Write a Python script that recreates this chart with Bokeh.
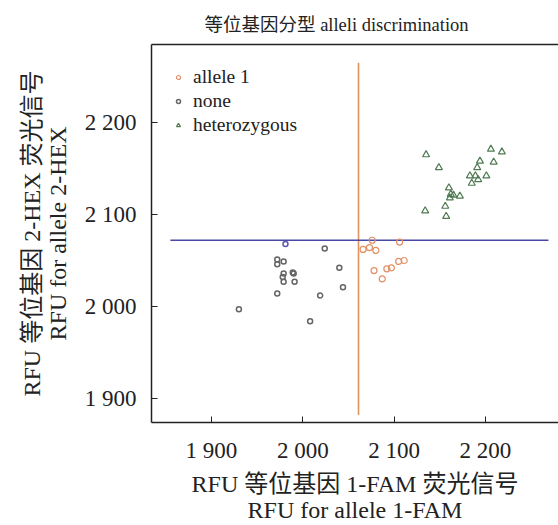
from bokeh.plotting import figure
from bokeh.models import FixedTicker, LinearAxis, Range1d, ColumnDataSource, Legend, LegendItem
from bokeh.embed import file_html
from bokeh.resources import INLINE

# ---- data ----
allele1_x = [2076, 2106, 2066, 2073, 2080, 2078, 2092, 2097, 2087, 2105, 2111]
allele1_y = [2072, 2070, 2062, 2064, 2061, 2039, 2041, 2042, 2030, 2049, 2050]

none_x = [2024, 1972, 1979, 1972, 1979, 1989, 1990, 1978, 1979, 1991, 1972, 2019, 1930, 2008, 2040, 2044, 1981]
none_y = [2063, 2051, 2049, 2046, 2036, 2037, 2036, 2032, 2027, 2027, 2014, 2012, 1997, 1984, 2042, 2021, 2068]
none_colors = ["#656565"] * 16 + ["#5a5ab0"]

het_x = [2135, 2149, 2206, 2218, 2194, 2209, 2191, 2183, 2189, 2192, 2201, 2185, 2160, 2162, 2165, 2172, 2161, 2156, 2134, 2157]
het_y = [2165, 2151, 2171, 2168, 2158, 2157, 2151, 2142, 2142, 2138, 2142, 2134, 2129, 2122, 2121, 2120, 2118, 2109, 2104, 2098]

fam_threshold = 2061          # vertical line x
fam_line_span = [1882, 2265]  # vertical line y extent
hex_threshold = 2072          # horizontal line y
hex_line_span = [1855, 2269]  # horizontal line x extent

x_ticks = [1900, 2000, 2100, 2200]
y_ticks = [1900, 2000, 2100, 2200]
tick_labels = {1900: "1 900", 2000: "2 000", 2100: "2 100", 2200: "2 200"}

title_text = "等位基因分型 alleli discrimination"
x_label = "RFU 等位基因 1-FAM 荧光信号\nRFU for allele 1-FAM"
y_label = "RFU 等位基因 2-HEX 荧光信号\nRFU for allele 2-HEX"

FONT = "'Liberation Serif', 'Noto Sans CJK SC'"

p = figure(width=558, height=525, output_backend="svg", toolbar_location=None,
           x_range=Range1d(1834.3, 2280), y_range=Range1d(1873.9, 2284.8),
           min_border_left=151, min_border_right=0, min_border_top=44, min_border_bottom=103)
p.outline_line_color = None
p.grid.visible = False
p.background_fill_color = "white"
p.border_fill_color = "white"

p.title.text = title_text
p.title.text_font = FONT
p.title.text_font_size = "18.5px"
p.title.text_font_style = "normal"
p.title.text_color = "#222222"
p.title.align = "left"
p.title.offset = 53
p.title.standoff = 20

for ax, ticks in ((p.xaxis[0], x_ticks), (p.yaxis[0], y_ticks)):
    ax.ticker = FixedTicker(ticks=ticks)
    ax.major_label_overrides = tick_labels
    ax.major_tick_in = 6
    ax.major_tick_out = 0
    ax.minor_tick_line_color = None
    ax.axis_line_color = "#222222"
    ax.axis_line_width = 1.5
    ax.major_tick_line_color = "#222222"
    ax.major_label_text_font = FONT
    ax.major_label_text_font_size = "23px"
    ax.major_label_text_color = "#222222"
    ax.axis_label_text_font = FONT
    ax.axis_label_text_font_size = "24px"
    ax.axis_label_text_font_style = "normal"
    ax.axis_label_text_color = "#222222"
    ax.axis_label_text_line_height = 1.0

p.xaxis[0].axis_label = x_label
p.yaxis[0].axis_label = y_label
p.xaxis[0].major_label_standoff = 15
p.xaxis[0].axis_label_standoff = 5
p.yaxis[0].major_label_standoff = 15
p.yaxis[0].axis_label_standoff = 11
p.yaxis[0].major_label_orientation = "horizontal"

top = LinearAxis(ticker=FixedTicker(ticks=[]), major_label_text_font_size="0px",
                 major_tick_line_color=None, minor_tick_line_color=None,
                 axis_line_color="#222222", axis_line_width=1.5)
p.add_layout(top, "above")

# threshold lines
p.line(x=[fam_threshold, fam_threshold], y=fam_line_span, line_color="#e0935c", line_width=1.6)
p.line(x=hex_line_span, y=[hex_threshold, hex_threshold], line_color="#4848a6", line_width=1.6)

r1 = p.scatter(allele1_x, allele1_y, marker="circle", size=6, fill_color=None,
               line_color="#e39064", line_width=1.2)
src_none = ColumnDataSource(dict(x=none_x, y=none_y, c=none_colors))
r2 = p.scatter("x", "y", source=src_none, marker="circle", size=5, fill_color=None,
               line_color="c", line_width=1.5)
r3 = p.scatter(het_x, het_y, marker="triangle", size=7, fill_color=None,
               line_color="#4f7a52", line_width=1.2)

legend = Legend(items=[LegendItem(label="allele 1", renderers=[r1]),
                       LegendItem(label="none", renderers=[r2], index=0),
                       LegendItem(label="heterozygous", renderers=[r3])],
                location="top_left", border_line_color=None, background_fill_alpha=0,
                label_text_font=FONT, label_text_font_size="19.5px", label_text_color="#222222",
                glyph_width=10, glyph_height=10, label_height=20, spacing=2,
                label_standoff=10, margin=22, padding=15)
p.add_layout(legend)

open("out.html", "w").write(file_html(p, INLINE))
